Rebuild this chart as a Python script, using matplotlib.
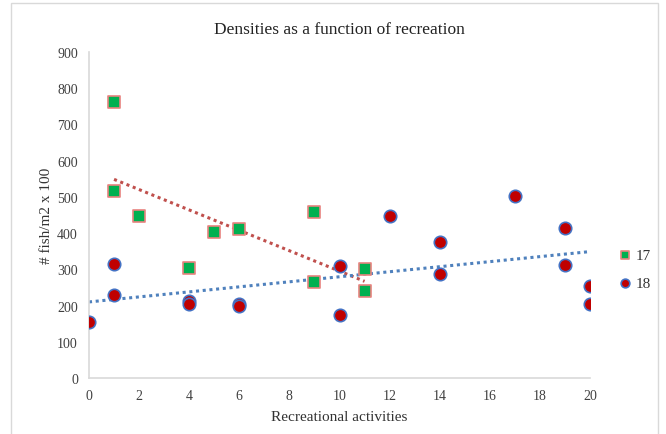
import numpy as np
import matplotlib
matplotlib.use("Agg")
import matplotlib.pyplot as plt
from matplotlib.patches import Rectangle

plt.rcParams['font.family'] = ['Liberation Serif', 'DejaVu Serif']

# Series "17" (green squares)
x17 = [1, 1, 2, 4, 5, 6, 9, 9, 11, 11]
y17 = [763, 515, 447, 305, 402, 410, 458, 265, 300, 240]

# Series "18" (red circles)
x18 = [0, 1, 1, 4, 4, 6, 6, 10, 10, 12, 14, 14, 17, 19, 19, 20, 20]
y18 = [155, 315, 228, 213, 205, 205, 200, 308, 175, 447, 375, 288, 503, 413, 312, 253, 205]

xticks = list(range(0, 21, 2))
yticks = list(range(0, 901, 100))

W, H = 666, 435
fig = plt.figure(figsize=(W / 100, H / 100), dpi=100)
ax = fig.add_axes([89 / W, 1 - 379 / H, (590 - 89) / W, (379 - 53) / H])

# Trendlines (linear fits)
c17 = np.polyfit(x17, y17, 1)
xs17 = np.array([min(x17), max(x17)])
ax.plot(xs17, np.polyval(c17, xs17), linestyle=(0, (1, 1.2)), color='#C0504D', lw=2.2, zorder=2)
c18 = np.polyfit(x18, y18, 1)
xs18 = np.array([min(x18), max(x18)])
ax.plot(xs18, np.polyval(c18, xs18), linestyle=(0, (1, 1.2)), color='#4F81BD', lw=2.2, zorder=2)

ax.scatter(x17, y17, marker='s', s=75, facecolor='#00B050', edgecolor='#E8837F', linewidth=1.2, zorder=3, label='17')
ax.scatter(x18, y18, marker='o', s=80, facecolor='#C00000', edgecolor='#4472C4', linewidth=1.2, zorder=3, label='18')

ax.set_xlim(0, 20)
ax.set_ylim(0, 900)
ax.set_xticks(xticks)
ax.set_yticks(yticks)
ax.tick_params(length=0, labelsize=10, colors='#404040', pad=8)
for s in ['top', 'right']:
    ax.spines[s].set_visible(False)
for s in ['left', 'bottom']:
    ax.spines[s].set_color('#D9D9D9')
    ax.spines[s].set_linewidth(1.2)

ax.set_title('Densities as a function of recreation', fontsize=12.5, color='#222222', pad=14)
ax.set_xlabel('Recreational activities', fontsize=11, color='#333333', labelpad=6)
ax.set_ylabel('# fish/m2 x 100', fontsize=11, color='#333333', labelpad=3)

leg = fig.legend(loc='center left', bbox_to_anchor=(610 / W, 1 - 270 / H), frameon=False,
                 fontsize=11, handletextpad=0.1, labelspacing=0.9, borderaxespad=0,
                 handlelength=1.2, markerscale=0.7)
for t in leg.get_texts():
    t.set_color('#333333')

fig.patches.append(Rectangle((11 / W, -0.01), (658 - 11) / W, 1 - 4 / H + 0.01,
                             transform=fig.transFigure, fill=False, edgecolor='#D9D9D9', lw=1.0))

fig.savefig('out.png', dpi=100)
